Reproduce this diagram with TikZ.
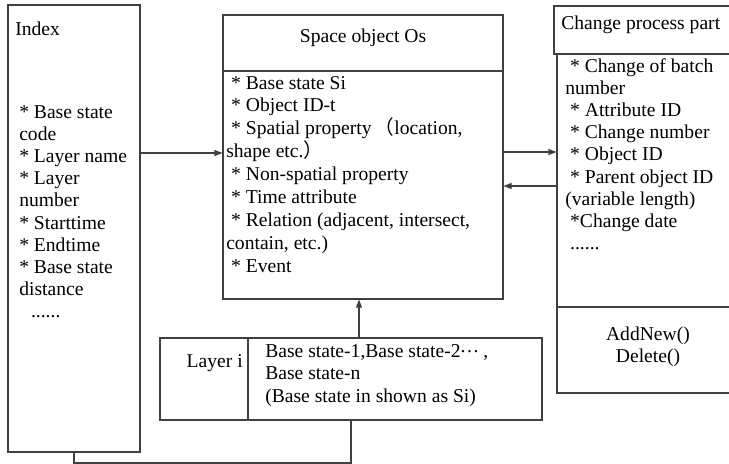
\documentclass[tikz,border=0pt]{standalone}
\usepackage{fontspec}
\setmainfont{Liberation Serif}
\newfontfamily\cjkfont{Noto Sans CJK SC}
\usetikzlibrary{arrows.meta}

\newdimen\unitpx
\unitpx=0.75pt
\newcommand{\starpad}{\hspace*{0.25em}}

\tikzset{
  box/.style={draw=black!75, line width=0.8pt, rectangle, inner sep=0pt},
  conn/.style={draw=black!75, line width=0.8pt},
  arr/.style={conn, -{Triangle[length=6pt,width=4.5pt]}},
  txt/.style={inner sep=0pt, anchor=base west}
}

\begin{document}
\begin{tikzpicture}[x=0.75pt, y=-0.75pt, font=\fontsize{14.7pt}{16.65pt}\selectfont]
\useasboundingbox (0,0) rectangle (729,464);

% Index table
\node[box, minimum width=132\unitpx, minimum height=447\unitpx] (index) at (74,228.5) {};
\node[txt] (indextitle) at (15,36) {Index};
\node[txt] (indexlist) at (19,118) {\begin{minipage}[t]{118\unitpx}
* Base state\\
code\\
{}* Layer name\\
{}* Layer\\
number\\
{}* Starttime\\
{}* Endtime\\
{}* Base state\\
distance\\
\hspace*{0.6em}......
\end{minipage}};

% Space object
\node[box, minimum width=280\unitpx, minimum height=284\unitpx] (space) at (363,157) {};
\node[inner sep=0pt, anchor=base] (spacetitle) at (363,42) {Space object Os};
\node[txt] (spacelist) at (226,89) {\begin{minipage}[t]{272\unitpx}
\fontsize{14.7pt}{17.2pt}\selectfont
\starpad* Base state Si\\
\starpad* Object ID-t\\
\starpad* Spatial property\,{\cjkfont （}location,\\
shape etc.{\cjkfont ）}\\
\starpad* Non-spatial property\\
\starpad* Time attribute\\
\starpad* Relation (adjacent, intersect,\\
contain, etc.)\\
\starpad* Event
\end{minipage}};

% Change process part
\node[box, minimum width=186\unitpx, minimum height=48\unitpx] (changehead) at (647,30) {};
\node[txt] (changetitle) at (561,30) {Change process part};
\node[box, minimum width=183\unitpx, minimum height=339\unitpx] (changebody) at (648.5,223.5) {};
\node[txt] (changelist) at (565,72) {\begin{minipage}[t]{170\unitpx}
\starpad* Change of batch\\
number\\
\starpad* Attribute ID\\
\starpad* Change number\\
\starpad* Object ID\\
\starpad* Parent object ID\\
(variable length)\\
\starpad*Change date\\
\starpad......
\end{minipage}};
\node[inner sep=0pt, anchor=base] (changeops) at (648,340) {\begin{minipage}[t]{120\unitpx}
\centering
AddNew()\\
Delete()
\end{minipage}};

% Layer i
\node[box, minimum width=382\unitpx, minimum height=82\unitpx] (layer) at (351,379) {};
\node[inner sep=0pt, anchor=base east] (layername) at (243,367) {Layer i};
\node[txt] (layerlist) at (265,357) {\begin{minipage}[t]{270\unitpx}
\fontsize{14.7pt}{17.2pt}\selectfont
Base state-1,Base state-2\raisebox{0.25em}{.\hspace{0.08em}.\hspace{0.08em}.}\ ,\\
Base state-n\\
(Base state in shown as Si)
\end{minipage}};

% Dividers
\draw[conn] (space.west |- 0,71) -- (space.east |- 0,71);
\draw[conn] (changebody.west |- 0,307) -- (changebody.east |- 0,307);
\draw[conn] (layer.north -| 248,0) -- (layer.south -| 248,0);

% Links
\draw[arr] (index.east |- 0,153) -- (space.west |- 0,153);
\draw[arr] (space.east |- 0,152) -- (changebody.west |- 0,152);
\draw[arr] (changebody.west |- 0,186) -- (space.east |- 0,186);
\draw[arr] (layer.north -| 359,0) -- (space.south -| 359,0);
\draw[conn] (index.south) -- (index.south |- 0,463) -| (layer.south);

\end{tikzpicture}
\end{document}
